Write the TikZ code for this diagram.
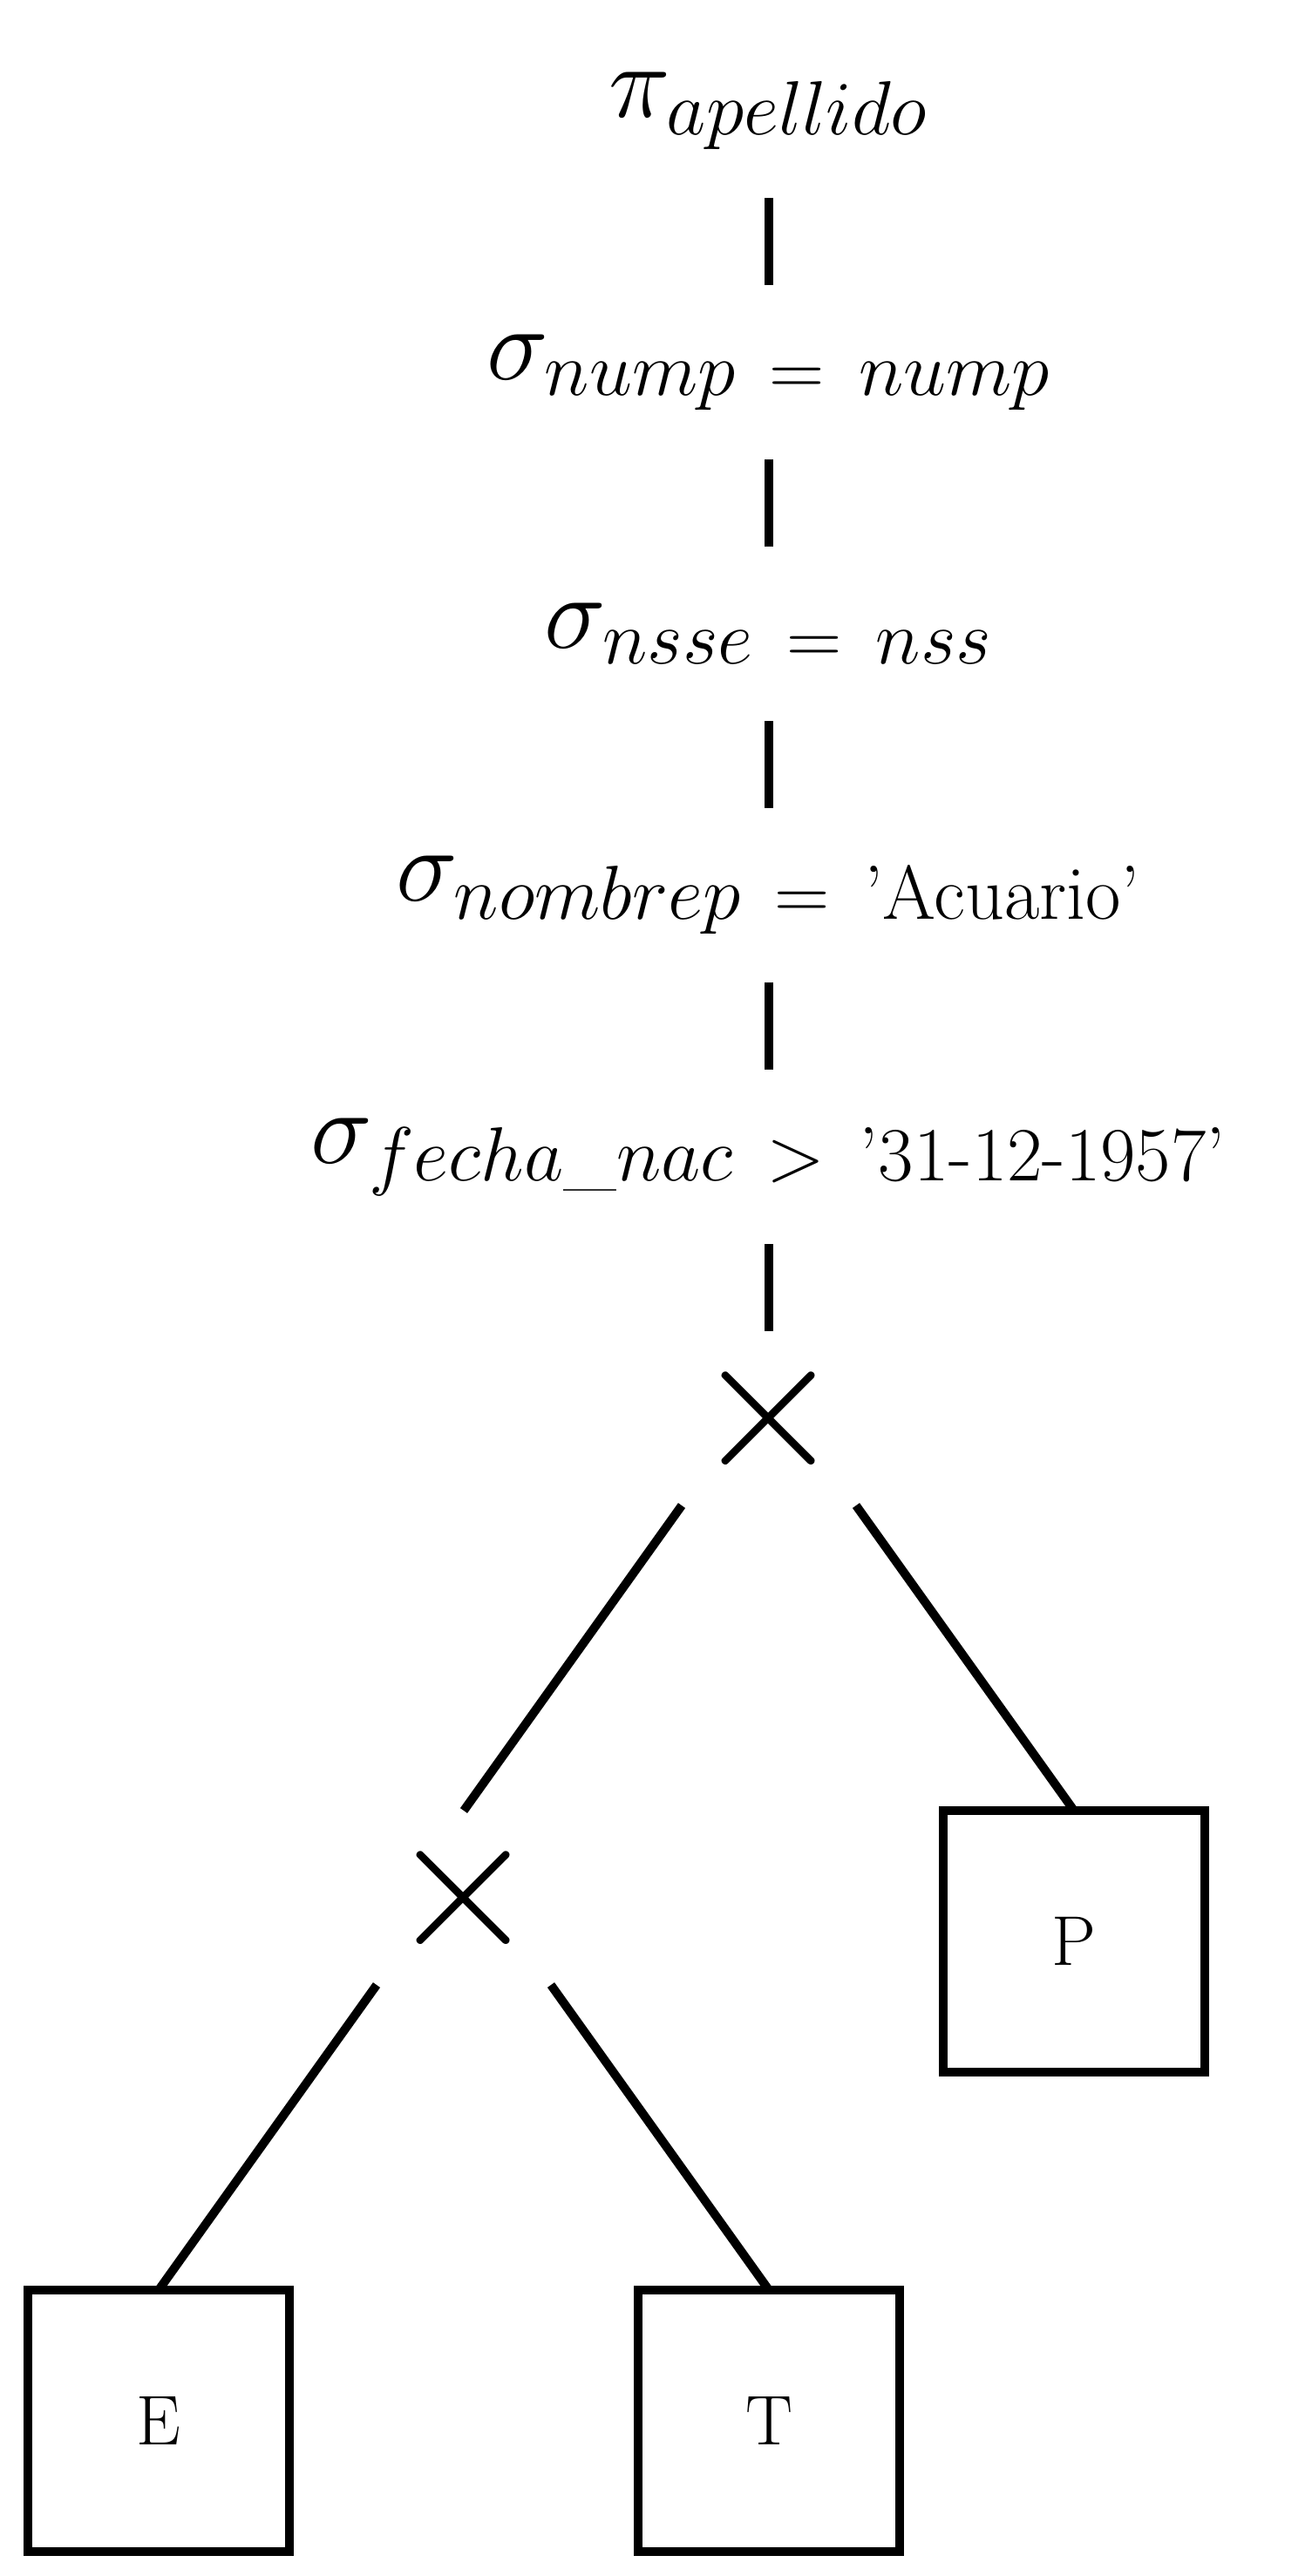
\RequirePackage{fix-cm}
\documentclass[tikz,border=0pt]{standalone}
\usepackage{amsmath}
\usepackage{tikz}
\usetikzlibrary{positioning}
\DeclareMathSizes{34}{34}{25}{17}
\newcommand{\relsp}{\mskip 8mu}

\begin{document}
\begin{tikzpicture}[
	line width = 1mm, % line style
	L/.style={rectangle, inner sep=0pt, outer sep=0pt, minimum width=2cm, minimum height=2cm, font=\fontsize{34}{40}\selectfont},  % operator label
	X/.style={rectangle, inner sep=0pt, outer sep=0pt, minimum size=2cm, font=\fontsize{63}{63}\selectfont},                          % cartesian product
	R/.style={rectangle, draw=black, inner sep=0pt, outer sep=0pt, minimum size=3cm, font=\fontsize{23}{28}\selectfont},              % relation box
	]
	\useasboundingbox (0,0) rectangle (15.05,-29.55);

	% Nodes and their relative positions
	\node[L] (Pi) at (8.82,-1.27) {$\pi_{apellido}$};
	\node[L] (S1) [below = 1 of Pi] {$\sigma_{nump \relsp=\relsp nump}$};
	\node[L] (S2) [below = 1 of S1] {$\sigma_{nsse \relsp=\relsp nss}$};
	\node[L] (S3) [below = 1 of S2] {$\sigma_{nombrep \relsp=\relsp \text{'Acuario'}}$};
	\node[L] (S4) [below = 1 of S3] {$\sigma_{fecha\text{\_}nac \relsp>\relsp \text{'31-12-1957'}}$};
	\node[X] (X1) [below = 1 of S4] {$\times$};
	\node[X] (X2) [below = 3.5 of X1, xshift=-3.5cm] {$\times$};
	\node[R] (P) [below = 3.5 of X1, xshift=3.5cm] {P};
	\node[R] (E) [below = 3.5 of X2, xshift=-3.5cm] {E};
	\node[R] (T) [below = 3.5 of X2, xshift=3.5cm] {T};

	% Paths connecting nodes
	\path (Pi) edge (S1);
	\path (S1) edge (S2);
	\path (S2) edge (S3);
	\path (S3) edge (S4);
	\path (S4) edge (X1);
	\path (X1.south west) edge (X2.north);
	\path (X1.south east) edge (P.north);
	\path (X2.south west) edge (E.north);
	\path (X2.south east) edge (T.north);

\end{tikzpicture}
\end{document}
